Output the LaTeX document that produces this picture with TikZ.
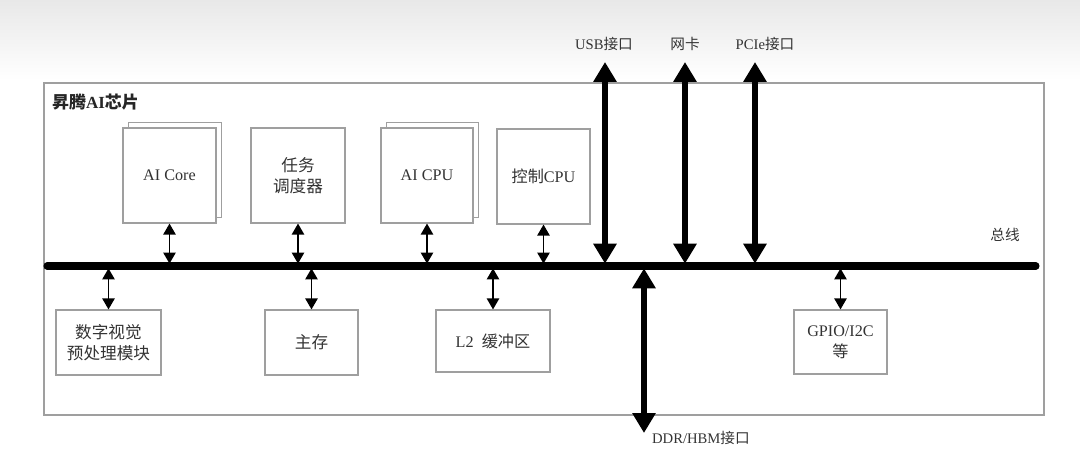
\documentclass[tikz,border=0pt]{standalone}
\usepackage{fontspec}
\setmainfont{Liberation Serif}
\newfontfamily\cjk{Noto Sans CJK SC}
\usepackage{tikz}
\usetikzlibrary{arrows.meta,positioning,shadows}

\begin{document}
\begin{tikzpicture}[
  x=0.03cm, y=-0.03cm,
  unit/.style={rectangle, draw=gray!75, line width=0.9pt, fill=white, align=center, text=black!80, font=\fontsize{13.8}{18}\selectfont},
  zh/.style={font=\cjk\fontsize{14.2}{18}\selectfont},
  stacked/.style={copy shadow={shadow xshift=5pt, shadow yshift=5pt, draw=gray!75, fill=white}},
  link/.style={{Triangle[width=10.5pt,length=9.5pt]}-{Triangle[width=10.5pt,length=9.5pt]}, line width=1.6pt, shorten >=2pt},
  port/.style={{Triangle[width=19pt,length=17pt]}-{Triangle[width=19pt,length=17pt]}, line width=5.5pt},
  lbl/.style={text=black!80, font=\fontsize{12.5}{15}\selectfont}
]
\useasboundingbox (0,0) rectangle (1080,460);
\shade[top color=gray!18, bottom color=white] (0,0) rectangle (1080,80);

% Chip frame
\draw[gray!75, line width=0.9pt] (44,83) rectangle (1044,415);
\node[anchor=west, text=black!85, font=\bfseries\fontsize{14.5}{17}\selectfont] (chip) at (48,102) {{\cjk 昇腾}AI{\cjk 芯片}};

% Bus
\coordinate (busL) at (47,266);
\coordinate (busR) at (1036,266);
\draw[line width=6pt, line cap=round] (busL) -- (busR);
\node[lbl, font=\cjk\fontsize{12.5}{15}\selectfont] (bus) at (1005,235) {总线};

% Upper units
\node[unit, stacked, minimum width=2.79cm, minimum height=2.85cm] (aicore) at (169.5,175.5) {AI Core};
\node[unit, zh, minimum width=2.82cm, minimum height=2.85cm] (sched) at (298,175.5) {任务\\调度器};
\node[unit, stacked, minimum width=2.76cm, minimum height=2.85cm] (aicpu) at (427,175.5) {AI CPU};
\node[unit, minimum width=2.79cm, minimum height=2.85cm] (ctrlcpu) at (543.5,176.5) {{\cjk 控制}CPU};

% Lower units
\node[unit, zh, minimum width=3.15cm, minimum height=1.95cm] (dvpp) at (108.5,342.5) {数字视觉\\预处理模块};
\node[unit, zh, minimum width=2.79cm, minimum height=1.95cm] (mem) at (311.5,342.5) {主存};
\node[unit, minimum width=3.42cm, minimum height=1.86cm] (l2) at (493,341) {L2\hspace{0.5em}{\cjk 缓冲区}};
\node[unit, minimum width=2.79cm, minimum height=1.92cm] (gpio) at (840.5,342) {GPIO/I2C\\{\cjk 等}};

% Unit links
\foreach \u in {aicore, sched, aicpu, ctrlcpu}
  \draw[link] (\u.south) -- (\u.south |- busL);
\foreach \u in {dvpp, mem, l2, gpio}
  \draw[link] (\u.north) -- (\u.north |- busL);

% External ports
\coordinate (usbTop) at (605,62);
\coordinate (nicTop) at (685,62);
\coordinate (pcieTop) at (755,62);
\coordinate (ddrEnd) at (644,433);
\node[lbl] (usb) at (604,44) {USB{\cjk 接口}};
\node[lbl, font=\cjk\fontsize{12.5}{15}\selectfont] (nic) at (685,44) {网卡};
\node[lbl] (pcie) at (765,44) {PCIe{\cjk 接口}};
\node[lbl, anchor=west] (ddr) at (648,438) {DDR/HBM{\cjk 接口}};
\draw[port, shorten >=2pt] (usbTop) -- (usbTop |- busL);
\draw[port, shorten >=2pt] (nicTop) -- (nicTop |- busL);
\draw[port, shorten >=2pt] (pcieTop) -- (pcieTop |- busL);
\draw[port, shorten <=2pt] (ddrEnd |- busL) -- (ddrEnd);

\end{tikzpicture}
\end{document}
